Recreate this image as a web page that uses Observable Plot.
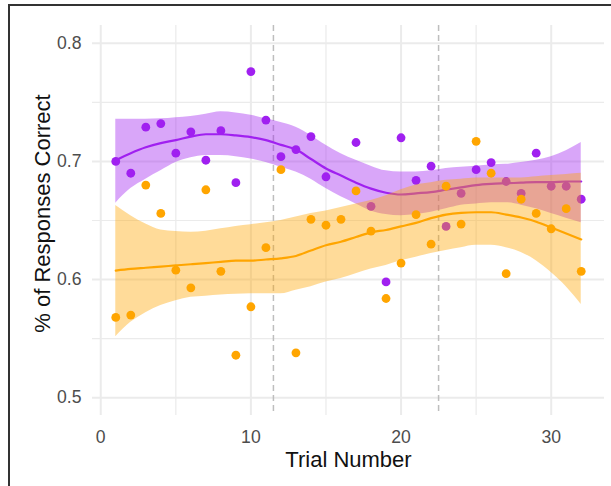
<!DOCTYPE html>
<html><head><meta charset="utf-8">
<script src="https://cdn.jsdelivr.net/npm/d3@7"></script>
<script src="https://cdn.jsdelivr.net/npm/@observablehq/plot@0.6"></script>
<style>
body{margin:0;background:#fff;}
#wrap{position:relative;width:611px;height:486px;overflow:hidden;background:#fff;}
#frame{position:absolute;left:8px;top:4px;right:-4px;bottom:-4px;border-left:2px solid #333;border-top:2px solid #333;pointer-events:none;}
</style></head><body>
<div id="wrap"><div id="chart"></div><div id="frame"></div></div>
<script>
// ---- data ----
const trials = [1,2,3,4,5,6,7,8,9,10,11,12,13,14,15,16,17,18,19,20,21,22,23,24,25,26,27,28,29,30,31,32];
const purpleValues = [0.700,0.690,0.729,0.732,0.707,0.725,0.701,0.726,0.682,0.776,0.735,0.704,0.710,0.721,0.687,null,0.716,0.662,0.598,0.720,0.684,0.696,0.645,0.673,0.693,0.699,0.683,0.673,0.707,0.679,0.679,0.668];
const orangeValues = [0.568,0.570,0.680,0.656,0.608,0.593,0.676,0.607,0.536,0.577,0.627,0.693,0.538,0.651,0.646,0.651,0.675,0.641,0.584,0.614,0.655,0.630,0.679,0.647,0.717,0.690,0.605,0.668,0.656,0.643,0.660,0.607];
// smoothed fits and confidence bands
const purpleFit = [0.701,0.707,0.712,0.7155,0.718,0.721,0.723,0.723,0.722,0.7205,0.718,0.714,0.710,0.702,0.694,0.688,0.682,0.677,0.6735,0.672,0.673,0.674,0.676,0.678,0.680,0.681,0.6815,0.682,0.6825,0.6825,0.683,0.683];
const purpleHi = [0.7356,0.7356,0.7356,0.736,0.737,0.738,0.740,0.742,0.741,0.739,0.736,0.733,0.729,0.722,0.7136,0.7065,0.701,0.696,0.692,0.691,0.691,0.692,0.694,0.695,0.696,0.697,0.6975,0.699,0.701,0.704,0.709,0.716];
const purpleLo = [0.6647,0.677,0.685,0.692,0.699,0.703,0.705,0.705,0.704,0.702,0.699,0.695,0.691,0.685,0.677,0.670,0.664,0.658,0.655,0.654,0.655,0.657,0.660,0.663,0.664,0.665,0.665,0.663,0.660,0.656,0.652,0.648];
const orangeFit = [0.6076,0.609,0.610,0.611,0.612,0.613,0.614,0.615,0.616,0.616,0.617,0.618,0.620,0.6246,0.629,0.632,0.636,0.640,0.642,0.645,0.648,0.652,0.655,0.6565,0.657,0.657,0.655,0.6525,0.649,0.644,0.639,0.634];
const orangeHi = [0.6627,0.654,0.647,0.642,0.6407,0.640,0.641,0.643,0.645,0.6465,0.648,0.650,0.653,0.656,0.658,0.661,0.664,0.667,0.671,0.676,0.680,0.682,0.684,0.685,0.686,0.686,0.686,0.686,0.687,0.688,0.689,0.690];
const orangeLo = [0.5517,0.5638,0.572,0.578,0.582,0.585,0.586,0.587,0.5875,0.588,0.588,0.588,0.591,0.594,0.598,0.601,0.605,0.609,0.612,0.616,0.619,0.622,0.6246,0.627,0.629,0.629,0.627,0.623,0.616,0.606,0.594,0.579];
const xMajor = [0,10,20,30];
const xMajorLabels = ["0","10","20","30"];
const xMinor = [5,15,25];
const yMajor = [0.5,0.6,0.7,0.8];
const yMajorLabels = ["0.5","0.6","0.7","0.8"];
const yMinor = [0.55,0.65,0.75];
const phaseBreaks = [11.5,22.5];
const xTitle = "Trial Number";
const yTitle = "% of Responses Correct";

const PURPLE = "#A020F0", ORANGE = "#FFA500";
const purpleDots = trials.map((t,i)=>({trial:t,value:purpleValues[i]})).filter(d=>d.value!=null);
const orangeDots = trials.map((t,i)=>({trial:t,value:orangeValues[i]}));
const purpleSmooth = trials.map((t,i)=>({trial:t,fit:purpleFit[i],lo:purpleLo[i],hi:purpleHi[i]}));
const orangeSmooth = trials.map((t,i)=>({trial:t,fit:orangeFit[i],lo:orangeLo[i],hi:orangeHi[i]}));

const chart = Plot.plot({
  width:611, height:486,
  marginLeft:92, marginRight:7, marginTop:25, marginBottom:71,
  x:{domain:[-0.55,33.55]},
  y:{domain:[0.485,0.815]},
  style:{fontFamily:"'Liberation Sans', Arial, sans-serif", background:"transparent", overflow:"visible"},
  marks:[
    Plot.ruleX(xMinor,{stroke:"#EBEBEB",strokeWidth:1.2}),
    Plot.ruleX(xMajor,{stroke:"#EBEBEB",strokeWidth:2}),
    Plot.ruleY(yMinor,{stroke:"#EBEBEB",strokeWidth:1.2}),
    Plot.ruleY(yMajor,{stroke:"#EBEBEB",strokeWidth:2}),
    Plot.ruleX(phaseBreaks,{stroke:"#BEBEBE",strokeWidth:1.5,strokeDasharray:"6,4"}),
    Plot.dot(purpleDots,{x:"trial",y:"value",r:4.4,fill:PURPLE}),
    Plot.areaY(purpleSmooth,{x:"trial",y1:"lo",y2:"hi",fill:PURPLE,fillOpacity:0.4,curve:"monotone-x"}),
    Plot.line(purpleSmooth,{x:"trial",y:"fit",stroke:PURPLE,strokeWidth:2.2,curve:"monotone-x"}),
    Plot.dot(orangeDots,{x:"trial",y:"value",r:4.4,fill:ORANGE}),
    Plot.areaY(orangeSmooth,{x:"trial",y1:"lo",y2:"hi",fill:ORANGE,fillOpacity:0.4,curve:"monotone-x"}),
    Plot.line(orangeSmooth,{x:"trial",y:"fit",stroke:ORANGE,strokeWidth:2.2,curve:"monotone-x"}),
    Plot.axisX({ticks:xMajor,tickSize:0,tickPadding:15,fontSize:17.6,fill:"#4D4D4D",label:null,
      tickFormat:(d)=>xMajorLabels[xMajor.indexOf(d)]}),
    Plot.axisY({ticks:yMajor,tickSize:0,tickPadding:11,fontSize:17.6,fill:"#4D4D4D",label:null,
      tickFormat:(d)=>yMajorLabels[yMajor.indexOf(d)]}),
    Plot.text([xTitle],{frameAnchor:"bottom",textAnchor:"middle",lineAnchor:"middle",dy:44,fontSize:22,fill:"#111"}),
    Plot.text([yTitle],{frameAnchor:"left",textAnchor:"middle",lineAnchor:"middle",dx:-50,dy:-7,rotate:-90,fontSize:22,fill:"#111"})
  ]
});
document.getElementById("chart").appendChild(chart);
</script>
</body></html>
